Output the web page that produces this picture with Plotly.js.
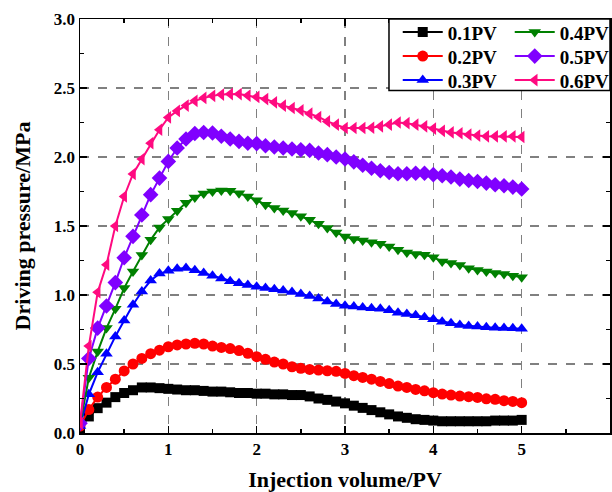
<!DOCTYPE html>
<html>
<head>
<meta charset="utf-8">
<script src="https://cdn.plot.ly/plotly-3.0.1.min.js"></script>
<style>html,body{margin:0;padding:0;background:#fff;}#chart{width:612px;height:492px;}</style>
</head>
<body>
<div id="chart"></div>
<script>
const injection = [0,0.1,0.2,0.3,0.4,0.5,0.6,0.7,0.8,0.9,1.0,1.1,1.2,1.3,1.4,1.5,1.6,1.7,1.8,1.9,2.0,2.1,2.2,2.3,2.4,2.5,2.6,2.7,2.8,2.9,3.0,3.1,3.2,3.3,3.4,3.5,3.6,3.7,3.8,3.9,4.0,4.1,4.2,4.3,4.4,4.5,4.6,4.7,4.8,4.9,5.0];
const seriesNames = ["0.1PV","0.2PV","0.3PV","0.4PV","0.5PV","0.6PV"];
const p01 = [0.03,0.12,0.18,0.22,0.26,0.29,0.31,0.33,0.33,0.325,0.32,0.315,0.31,0.31,0.305,0.30,0.30,0.295,0.29,0.29,0.285,0.285,0.28,0.28,0.275,0.275,0.265,0.25,0.24,0.228,0.215,0.198,0.182,0.166,0.15,0.135,0.12,0.11,0.10,0.095,0.09,0.085,0.085,0.085,0.085,0.085,0.085,0.09,0.09,0.09,0.095];
const p02 = [0.05,0.17,0.26,0.33,0.39,0.45,0.50,0.54,0.575,0.60,0.625,0.638,0.645,0.65,0.645,0.63,0.62,0.612,0.597,0.578,0.553,0.534,0.514,0.50,0.48,0.469,0.461,0.456,0.451,0.447,0.432,0.415,0.403,0.39,0.374,0.358,0.34,0.33,0.316,0.306,0.292,0.282,0.275,0.268,0.263,0.258,0.248,0.244,0.234,0.229,0.22];
const p03 = [0.05,0.28,0.44,0.575,0.70,0.815,0.93,1.025,1.105,1.155,1.175,1.19,1.195,1.18,1.16,1.14,1.12,1.10,1.085,1.073,1.06,1.05,1.042,1.032,1.022,1.008,0.993,0.974,0.952,0.935,0.923,0.916,0.909,0.904,0.90,0.89,0.872,0.863,0.853,0.839,0.824,0.807,0.795,0.783,0.776,0.771,0.766,0.763,0.761,0.759,0.755];
const p04 = [0.06,0.40,0.59,0.76,0.90,1.05,1.17,1.29,1.40,1.49,1.55,1.61,1.668,1.707,1.735,1.75,1.757,1.755,1.738,1.714,1.687,1.654,1.63,1.612,1.594,1.57,1.545,1.516,1.485,1.453,1.424,1.405,1.395,1.383,1.371,1.351,1.327,1.308,1.298,1.291,1.274,1.242,1.231,1.218,1.194,1.182,1.17,1.159,1.153,1.139,1.129];
const p05 = [0.07,0.54,0.76,0.92,1.09,1.27,1.425,1.58,1.727,1.847,1.968,2.065,2.13,2.17,2.178,2.174,2.15,2.13,2.113,2.10,2.097,2.082,2.072,2.065,2.058,2.053,2.048,2.029,2.017,2.0,1.985,1.965,1.94,1.918,1.90,1.888,1.879,1.879,1.882,1.882,1.872,1.864,1.855,1.84,1.83,1.823,1.811,1.799,1.792,1.782,1.768];
const p06 = [0.07,0.63,1.02,1.22,1.50,1.714,1.877,1.985,2.10,2.198,2.287,2.334,2.373,2.407,2.428,2.443,2.452,2.456,2.456,2.445,2.435,2.42,2.396,2.372,2.355,2.338,2.314,2.29,2.258,2.234,2.21,2.21,2.21,2.212,2.222,2.234,2.25,2.245,2.234,2.222,2.206,2.19,2.178,2.172,2.162,2.155,2.15,2.15,2.15,2.15,2.145];
const xTickVals = [0,1,2,3,4,5,6];
const yTickVals = [0,0.5,1.0,1.5,2.0,2.5,3.0];

const allY = [p01,p02,p03,p04,p05,p06];
const colors = ["#000000","#FF0000","#0000FF","#008000","#8000FF","#FF0A80"];
const symbols = ["square","circle","triangle-up","triangle-down","diamond","triangle-left"];
const sizes = [10,11,11,11,12,11];
// legend rows: row1 = 0.1PV & 0.4PV, row2 = 0.2PV & 0.5PV, row3 = 0.3PV & 0.6PV
const legendIds = ["legend","legend2","legend3","legend","legend2","legend3"];
const legendWidths = [57,57,57,0,0,0];

const fontFam = "Liberation Serif, Times New Roman, serif";
const traces = allY.map((y,i) => {
  const t = {
    x: injection, y: y, name: seriesNames[i], type: "scatter", mode: "lines+markers",
    line: {color: colors[i], width: 2},
    marker: {symbol: symbols[i], size: sizes[i], color: colors[i]},
    legend: legendIds[i]
  };
  if (legendWidths[i]) t.legendwidth = legendWidths[i];
  return t;
});

const legendFont = {family: fontFam, size: 19, color: "#000", weight: "bold"};
function legendRow(yc) {
  return {orientation: "h", x: 0.5995, y: yc, xanchor: "left", yanchor: "middle",
    bgcolor: "rgba(0,0,0,0)", borderwidth: 0, font: legendFont, itemwidth: 40,
    entrywidth: 0, entrywidthmode: "pixels", traceorder: "normal"};
}
const axisCommon = {
  showline: true, linecolor: "#000", linewidth: 1.5, mirror: "allticks",
  ticks: "inside", ticklen: 7, tickwidth: 1.5, tickcolor: "#000",
  showgrid: true, gridcolor: "#808080", gridwidth: 1.5, griddash: "dash",
  zeroline: false,
  tickfont: {family: fontFam, size: 17, color: "#000", weight: "bold"}
};

const layout = {
  width: 612, height: 492,
  margin: {l: 80, r: 2, t: 19, b: 59, autoexpand: false},
  paper_bgcolor: "#fff", plot_bgcolor: "#fff",
  showlegend: true,
  xaxis: Object.assign({}, axisCommon, {
    range: [0, 6], tickvals: xTickVals,
    minor: {dtick: 0.5, ticks: "inside", ticklen: 4, tickwidth: 1.5, tickcolor: "#000", showgrid: false},
    title: {text: "Injection volume/PV", font: {family: fontFam, size: 22, color: "#000", weight: "bold"}, standoff: 16}
  }),
  yaxis: Object.assign({}, axisCommon, {
    range: [0, 3], tickvals: yTickVals, tickformat: ".1f",
    minor: {dtick: 0.25, ticks: "inside", ticklen: 4, tickwidth: 1.5, tickcolor: "#000", showgrid: false},
    title: {text: "Driving pressure/MPa", font: {family: fontFam, size: 22, color: "#000", weight: "bold"}, standoff: 17}
  }),
  legend: legendRow(0.968),
  legend2: legendRow(0.910),
  legend3: legendRow(0.852),
  shapes: [{type: "rect", xref: "paper", yref: "paper", x0: 0.583, x1: 1.0, y0: 0.827, y1: 1.0, line: {color: "#000", width: 1.5}, fillcolor: "#fff", layer: "above"}]
};

Plotly.newPlot("chart", traces, layout, {displayModeBar: false, staticPlot: true});
</script>
</body>
</html>
